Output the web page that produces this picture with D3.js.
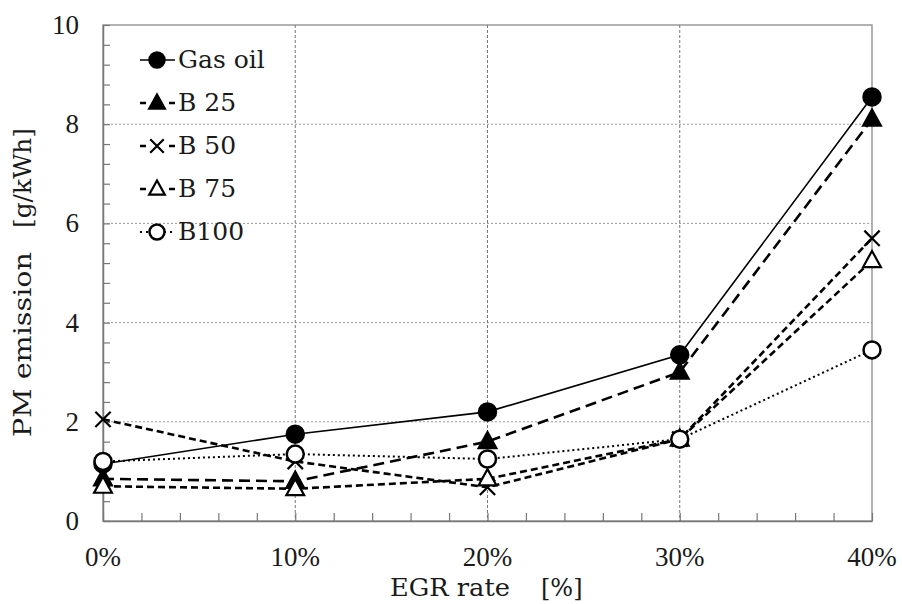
<!DOCTYPE html>
<html lang="en">
<head>
<meta charset="UTF-8">
<title>PM emission vs EGR rate</title>
<script src="https://d3js.org/d3.v7.min.js"></script>
<style>
  body { margin: 0; background: #fff; }
  svg text { font-family: "DejaVu Serif", "Liberation Serif", serif; fill: #1a1a1a; }
  svg text.num { font-family: "Liberation Serif", "DejaVu Serif", serif; }
</style>
</head>
<body>
<svg id="chart" width="902" height="604"></svg>
<script>
// data
const egrRates = [0, 10, 20, 30, 40];
const gasOil = [1.15, 1.75, 2.2, 3.35, 8.55];
const b25 = [0.85, 0.8, 1.6, 3.0, 8.1];
const b50 = [2.05, 1.2, 0.68, 1.65, 5.7];
const b75 = [0.7, 0.65, 0.85, 1.65, 5.25];
const b100 = [1.2, 1.35, 1.25, 1.65, 3.45];
const seriesNames = ["Gas oil", "B 25", "B 50", "B 75", "B100"];
const yTicks = [0, 2, 4, 6, 8, 10];

const series = [
  { name: seriesNames[0], values: gasOil, dash: null, width: 1.6, marker: "circle", fill: "#000" },
  { name: seriesNames[1], values: b25, dash: "11,6", width: 2.6, marker: "triangle", fill: "#000" },
  { name: seriesNames[2], values: b50, dash: "7,4", width: 2.6, marker: "cross", fill: "none" },
  { name: seriesNames[3], values: b75, dash: "7,4", width: 2.6, marker: "triangle", fill: "#fff" },
  { name: seriesNames[4], values: b100, dash: "2,3", width: 2, marker: "circle", fill: "#fff" }
];

const svg = d3.select("#chart");
const plotL = 103, plotR = 872, plotT = 25, plotB = 521;

const x = d3.scaleLinear().domain([0, 40]).range([plotL, plotR]);
const y = d3.scaleLinear().domain([0, 10]).range([plotB, plotT]);

// plot frame
svg.append("rect")
  .attr("x", plotL).attr("y", plotT)
  .attr("width", plotR - plotL).attr("height", plotB - plotT)
  .attr("fill", "none").attr("stroke", "#999").attr("stroke-width", 1.5);

// grid
svg.append("g").selectAll("line")
  .data(yTicks.filter(d => d > 0 && d < 10))
  .join("line")
  .attr("x1", plotL).attr("x2", plotR)
  .attr("y1", d => y(d)).attr("y2", d => y(d))
  .attr("stroke", "#999").attr("stroke-dasharray", "2,2");

svg.append("g").selectAll("line")
  .data(egrRates.filter(d => d > 0 && d < 40))
  .join("line")
  .attr("x1", d => x(d)).attr("x2", d => x(d))
  .attr("y1", plotT).attr("y2", plotB)
  .attr("stroke", "#777").attr("stroke-dasharray", "3,2");

// axes, ticks point inward
const xAxis = d3.axisBottom(x).tickValues(d3.range(0, 41, 2)).tickSizeInner(-8).tickSizeOuter(0).tickFormat("");
const yAxis = d3.axisLeft(y).tickValues(d3.range(0, 10.01, 0.4)).tickSizeInner(-7).tickSizeOuter(0).tickFormat("");

const gx = svg.append("g").attr("transform", `translate(0,${plotB})`).call(xAxis);
const gy = svg.append("g").attr("transform", `translate(${plotL},0)`).call(yAxis);
[gx, gy].forEach(g => {
  g.selectAll("path").attr("stroke", "#777").attr("stroke-width", 1.5);
  g.selectAll("line").attr("stroke", "#777").attr("stroke-width", 1.2);
});

// tick labels
svg.append("g").selectAll("text")
  .data(egrRates)
  .join("text")
  .attr("class", "num")
  .attr("x", d => x(d)).attr("y", 566)
  .attr("text-anchor", "middle")
  .attr("font-size", 27)
  .text(d => d + "%");

svg.append("g").selectAll("text")
  .data(yTicks)
  .join("text")
  .attr("class", "num")
  .attr("x", 79).attr("y", d => y(d) + 9)
  .attr("text-anchor", "end")
  .attr("font-size", 27)
  .text(d => d);

// axis titles
svg.append("text")
  .attr("x", 390).attr("y", 596)
  .attr("font-size", 24)
  .attr("textLength", 120).attr("lengthAdjust", "spacingAndGlyphs")
  .text("EGR rate");
svg.append("text")
  .attr("x", 541).attr("y", 596)
  .attr("font-size", 24)
  .text("[%]");

const yTitle = svg.append("g").attr("transform", "translate(31,0) rotate(-90)");
yTitle.append("text")
  .attr("x", -437).attr("y", 0)
  .attr("font-size", 24)
  .attr("textLength", 185).attr("lengthAdjust", "spacingAndGlyphs")
  .text("PM emission");
yTitle.append("text")
  .attr("x", -228).attr("y", 0)
  .attr("font-size", 24)
  .attr("textLength", 100).attr("lengthAdjust", "spacingAndGlyphs")
  .text("[g/kWh]");

// marker drawing
function drawMarker(g, s, size) {
  if (s.marker === "circle") {
    g.append("circle").attr("r", size * 0.5)
      .attr("fill", s.fill).attr("stroke", "#000").attr("stroke-width", 2.5);
  } else if (s.marker === "triangle") {
    const h = size * 0.95;
    g.append("path")
      .attr("d", `M0,${-h * 0.6}L${h * 0.55},${h * 0.4}L${-h * 0.55},${h * 0.4}Z`)
      .attr("fill", s.fill).attr("stroke", "#000").attr("stroke-width", 2.2);
  } else {
    const c = size * 0.45;
    g.append("path")
      .attr("d", `M${-c},${-c}L${c},${c}M${-c},${c}L${c},${-c}`)
      .attr("stroke", "#000").attr("stroke-width", 2.2);
  }
}

const line = d3.line().x(d => x(d[0])).y(d => y(d[1]));

series.forEach(s => {
  const pts = egrRates.map((r, i) => [r, s.values[i]]);
  svg.append("path")
    .datum(pts)
    .attr("d", line)
    .attr("fill", "none")
    .attr("stroke", "#000")
    .attr("stroke-width", s.width)
    .attr("stroke-dasharray", s.dash);
  svg.append("g").selectAll("g")
    .data(pts)
    .join("g")
    .attr("transform", d => `translate(${x(d[0])},${y(d[1])})`)
    .each(function () { drawMarker(d3.select(this), s, 17); });
});

// legend
const legend = svg.append("g").attr("transform", "translate(140,60)");
series.forEach((s, i) => {
  const g = legend.append("g").attr("transform", `translate(0,${i * 43})`);
  g.append("line")
    .attr("x1", 0).attr("x2", 35)
    .attr("stroke", "#000").attr("stroke-width", s.width)
    .attr("stroke-dasharray", s.dash ? (s.dash === "2,3" ? "2,4" : "6,23") : null);
  drawMarker(g.append("g").attr("transform", "translate(17,0)"), s, 15);
  g.append("text")
    .attr("x", 38).attr("y", 8)
    .attr("font-size", 25)
    .text(s.name);
});
</script>
</body>
</html>
